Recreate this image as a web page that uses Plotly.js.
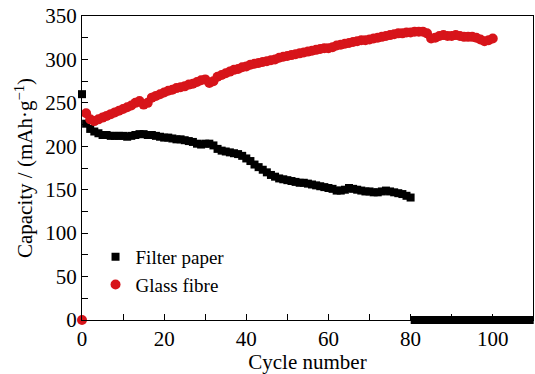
<!DOCTYPE html>
<html>
<head>
<meta charset="utf-8">
<script src="https://cdn.plot.ly/plotly-3.0.1.min.js"></script>
<style>html,body{margin:0;padding:0;background:#fff;}#chart{width:535px;height:374px;}</style>
</head>
<body>
<div id="chart"></div>
<script>
// Cycle numbers
const filterCycles = [];
for (let i = 0; i <= 109; i++) filterCycles.push(i);
const glassCycles = [];
for (let i = 0; i <= 100; i++) glassCycles.push(i);

// Filter paper capacity (mAh/g), cycles 0..109 (cell failed after cycle 80)
const filterPaper = [
  260, 226, 220, 217, 215, 213, 213, 212, 212, 212,
  212, 211, 212, 213, 214, 214, 213, 213, 212, 211,
  210, 210, 209, 208, 208, 207, 206, 205, 203, 202,
  203, 203, 201, 197, 195, 194, 193, 192, 191, 189,
  186, 183, 179, 176, 173, 170, 167, 165, 163, 162,
  161, 160, 159, 158, 158, 157, 156, 155, 154, 153,
  152, 151, 149, 149, 150, 152, 151, 150, 149, 148,
  148, 147, 147, 148, 149, 148, 147, 146, 145, 143,
  141, 0, 0, 0, 0, 0, 0, 0, 0, 0,
  0, 0, 0, 0, 0, 0, 0, 0, 0, 0,
  0, 0, 0, 0, 0, 0, 0, 0, 0, 0
];

// Glass fibre capacity (mAh/g), cycles 0..100
const glassFibre = [
  0, 238, 231, 229, 231, 233, 235, 237, 239, 241,
  243, 245, 247, 250, 252, 248, 250, 256, 258, 260,
  262, 264, 265, 267, 268, 269, 271, 272, 274, 276,
  277, 273, 275, 280, 282, 284, 286, 288, 289, 291,
  292, 294, 295, 296, 297, 298, 299, 300, 302, 303,
  304, 305, 306, 307, 308, 309, 310, 311, 312, 313,
  313, 314, 316, 317, 318, 319, 320, 321, 322, 322,
  323, 324, 325, 326, 327, 328, 329, 330, 330, 331,
  331, 332, 332, 332, 330, 324, 325, 327, 328, 327,
  327, 328, 327, 326, 326, 326, 325, 323, 321, 322,
  324
];

const xTickVals = [0, 20, 40, 60, 80, 100];
const yTickVals = [0, 50, 100, 150, 200, 250, 300, 350];

const font = '"Liberation Serif", "Times New Roman", serif';

const traces = [
  {
    x: filterCycles, y: filterPaper, name: 'Filter paper',
    type: 'scatter', mode: 'markers', cliponaxis: false,
    marker: {symbol: 'square', size: 8, color: '#000000'}
  },
  {
    x: glassCycles, y: glassFibre, name: 'Glass fibre',
    type: 'scatter', mode: 'markers', cliponaxis: false,
    marker: {symbol: 'circle', size: 10, color: '#d7141a'}
  }
];

const axisCommon = {
  showgrid: false, zeroline: false,
  showline: true, linecolor: '#000', linewidth: 1, mirror: true,
  ticks: 'inside', ticklen: 6, tickcolor: '#000', tickwidth: 1,
  tickfont: {family: font, size: 21, color: '#000'}
};

const layout = {
  width: 535, height: 374,
  margin: {l: 82, r: 2, t: 16, b: 54},
  paper_bgcolor: '#fff', plot_bgcolor: '#fff',
  font: {family: font, color: '#000'},
  showlegend: true,
  legend: {
    x: 0.03, y: 0.27, xanchor: 'left', yanchor: 'top',
    bgcolor: 'rgba(0,0,0,0)',
    font: {family: font, size: 19, color: '#000'}
  },
  xaxis: Object.assign({}, axisCommon, {
    range: [0, 109.8],
    tickvals: xTickVals,
    ticktext: xTickVals.map(String),
    minor: {dtick: 10, tick0: 0, ticks: 'inside', ticklen: 6, tickcolor: '#000'},
    title: {text: 'Cycle number', font: {family: font, size: 21, color: '#000'}, standoff: 1}
  }),
  yaxis: Object.assign({}, axisCommon, {
    range: [0, 350],
    tickvals: yTickVals,
    ticktext: yTickVals.map(String),
    minor: {dtick: 25, tick0: 0, ticks: 'inside', ticklen: 6, tickcolor: '#000'},
    title: {text: 'Capacity / (mAh·g<sup>−1</sup>)', font: {family: font, size: 21, color: '#000'}, standoff: 6}
  })
};

Plotly.newPlot('chart', traces, layout, {displayModeBar: false, staticPlot: true});
</script>
</body>
</html>
